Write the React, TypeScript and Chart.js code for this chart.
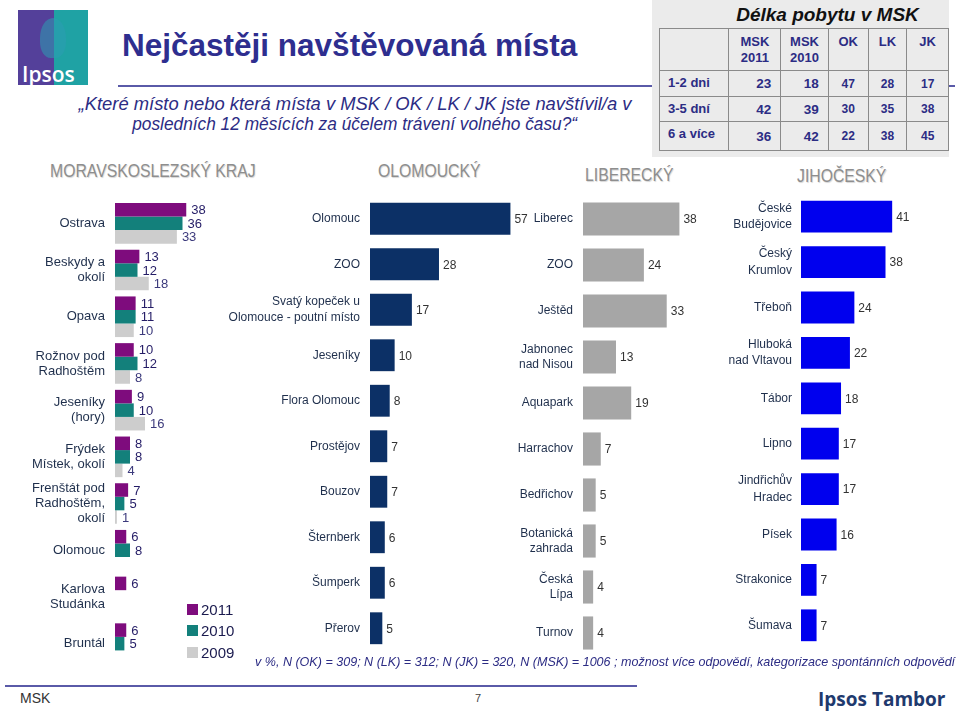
import React, { useEffect, useRef } from "react";
import { Chart, registerables } from "chart.js";

Chart.register(...registerables);

const FONT = "'Liberation Sans', Arial, sans-serif";

// ---- Moravskoslezský kraj (2011 / 2010 / 2009) ----
const mskCategories = [
  ["Ostrava"],
  ["Beskydy a", "okolí"],
  ["Opava"],
  ["Rožnov pod", "Radhoštěm"],
  ["Jeseníky", "(hory)"],
  ["Frýdek", "Místek, okolí"],
  ["Frenštát pod", "Radhoštěm,", "okolí"],
  ["Olomouc"],
  ["Karlova", "Studánka"],
  ["Bruntál"],
];
const msk2011 = [38, 13, 11, 10, 9, 8, 7, 6, 6, 6];
const msk2010 = [36, 12, 11, 12, 10, 8, 5, 8, null, 5];
const msk2009 = [33, 18, 10, 8, 16, 4, 1, null, null, null];
const legendYears = ["2011", "2010", "2009"];

// ---- Olomoucký ----
const okCategories = [
  "Olomouc",
  "ZOO",
  ["Svatý kopeček u", "Olomouce - poutní místo"],
  "Jeseníky",
  "Flora Olomouc",
  "Prostějov",
  "Bouzov",
  "Šternberk",
  "Šumperk",
  "Přerov",
];
const okValues = [57, 28, 17, 10, 8, 7, 7, 6, 6, 5];

// ---- Liberecký ----
const lkCategories = [
  "Liberec",
  "ZOO",
  "Ještěd",
  ["Jabnonec", "nad Nisou"],
  "Aquapark",
  "Harrachov",
  "Bedřichov",
  ["Botanická", "zahrada"],
  ["Česká", "Lípa"],
  "Turnov",
];
const lkValues = [38, 24, 33, 13, 19, 7, 5, 5, 4, 4];

// ---- Jihočeský ----
const jkCategories = [
  ["České", "Budějovice"],
  ["Český", "Krumlov"],
  "Třeboň",
  ["Hluboká", "nad Vltavou"],
  "Tábor",
  "Lipno",
  ["Jindřichův", "Hradec"],
  "Písek",
  "Strakonice",
  "Šumava",
];
const jkValues = [41, 38, 24, 22, 18, 17, 17, 16, 7, 7];

// ---- Délka pobytu table ----
const stayRows = ["1-2 dni", "3-5 dní", "6 a více"];
const stayCols = [["MSK", "2011"], ["MSK", "2010"], ["OK"], ["LK"], ["JK"]];
const stayValues = [
  [23, 18, 47, 28, 17],
  [42, 39, 30, 35, 38],
  [36, 42, 22, 38, 45],
];

const valueLabels = {
  id: "valueLabels",
  afterDatasetsDraw(chart: any, _args: any, opts: any) {
    const ctx = chart.ctx;
    chart.data.datasets.forEach((ds: any, i: number) => {
      const meta = chart.getDatasetMeta(i);
      meta.data.forEach((el: any, j: number) => {
        const v = ds.data[j];
        if (v == null) return;
        ctx.save();
        ctx.font = `${opts.size}px ${FONT}`;
        ctx.fillStyle = opts.colors[i] || opts.colors[0];
        ctx.textAlign = "left";
        ctx.textBaseline = "middle";
        ctx.fillText(String(v), el.x + opts.offset, el.y + 1);
        ctx.restore();
      });
    });
  },
};

function buildConfig(o: any) {
  return {
    type: "bar",
    data: {
      labels: o.labels,
      datasets: o.datasets.map((d: any) => ({
        data: d.data,
        backgroundColor: d.color,
        borderWidth: 0,
        barPercentage: 1,
        categoryPercentage: o.catPct,
      })),
    },
    options: {
      indexAxis: "y",
      responsive: false,
      maintainAspectRatio: false,
      animation: false,
      layout: { padding: { top: o.padTop, bottom: o.padBottom, left: 0, right: 0 } },
      scales: {
        x: { display: false, min: 0, max: o.max },
        y: {
          grid: { display: false, drawTicks: false },
          border: { display: false },
          ticks: {
            autoSkip: false,
            padding: o.tickPad,
            color: o.tickColor,
            font: { family: FONT, size: o.tickSize, lineHeight: o.lineHeight },
          },
          afterFit: (s: any) => {
            s.width = o.yWidth;
            s.paddingTop = 0;
            s.paddingBottom = 0;
          },
        },
      },
      plugins: {
        legend: { display: false },
        tooltip: { enabled: false },
        valueLabels: { size: o.valueSize, colors: o.datasets.map((d: any) => d.labelColor), offset: o.offset },
      },
    },
    plugins: [valueLabels],
  };
}

function BarChart(props: { left: number; top: number; width: number; height: number; config: any }) {
  const ref = useRef<HTMLCanvasElement>(null);
  useEffect(() => {
    const chart = new Chart(ref.current as HTMLCanvasElement, props.config);
    return () => chart.destroy();
  }, []);
  return (
    <canvas
      ref={ref}
      width={props.width}
      height={props.height}
      style={{ position: "absolute", left: props.left, top: props.top, width: props.width, height: props.height }}
    />
  );
}

const mskColors = ["#7e0c7d", "#13807b", "#cdcdcd"];

const mskConfig = buildConfig({
  labels: mskCategories,
  datasets: [
    { data: msk2011, color: mskColors[0], labelColor: "#241c66" },
    { data: msk2010, color: mskColors[1], labelColor: "#241c66" },
    { data: msk2009, color: mskColors[2], labelColor: "#3c3a7c" },
  ],
  yWidth: 115,
  max: 72,
  tickSize: 13,
  lineHeight: 1.15,
  tickColor: "#1f2f4c",
  tickPad: 10,
  valueSize: 13,
  catPct: 0.87,
  padTop: 5,
  padBottom: 5,
  offset: 5,
});

const okConfig = buildConfig({
  labels: okCategories,
  datasets: [{ data: okValues, color: "#0c3066", labelColor: "#333333" }],
  yWidth: 150,
  max: 69,
  tickSize: 12,
  lineHeight: 1.3,
  tickColor: "#1f2f4c",
  tickPad: 10,
  valueSize: 12,
  catPct: 0.7,
  padTop: 6,
  padBottom: 5,
  offset: 4,
});

const lkConfig = buildConfig({
  labels: lkCategories,
  datasets: [{ data: lkValues, color: "#a6a6a6", labelColor: "#333333" }],
  yWidth: 83,
  max: 54,
  tickSize: 12,
  lineHeight: 1.3,
  tickColor: "#1f2f4c",
  tickPad: 10,
  valueSize: 12,
  catPct: 0.72,
  padTop: 6,
  padBottom: 5,
  offset: 4,
});

const jkConfig = buildConfig({
  labels: jkCategories,
  datasets: [{ data: jkValues, color: "#0000ee", labelColor: "#333333" }],
  yWidth: 86,
  max: 71.5,
  tickSize: 12,
  lineHeight: 1.35,
  tickColor: "#1f2f4c",
  tickPad: 9,
  valueSize: 12,
  catPct: 0.7,
  padTop: 6,
  padBottom: 5,
  offset: 4,
});

const navy = "#2c2c84";

function RegionHeader(props: { text: string; left: number; top: number }) {
  return (
    <div
      style={{
        position: "absolute",
        left: props.left,
        top: props.top,
        fontFamily: FONT,
        fontSize: 19,
        color: "#8e8e8e",
        whiteSpace: "nowrap",
        transform: "scaleX(0.83)",
        transformOrigin: "left center",
        textShadow: "1px 1px 1px #d6d6d6",
      }}
    >
      {props.text}
    </div>
  );
}

export default function App() {
  const cell: React.CSSProperties = {
    border: "1.5px solid #8a8a8a",
    color: navy,
    fontWeight: "bold",
    fontSize: 13,
    fontFamily: FONT,
    padding: 0,
  };
  const colW = [69, 51, 47, 39, 38, 41];
  const rowH = [26, 25, 29];
  return (
    <div style={{ position: "absolute", left: 0, top: 0, width: 960, height: 711, background: "#fff", overflow: "hidden", fontFamily: FONT }}>
      {/* logo */}
      <div style={{ position: "absolute", left: 18, top: 10, width: 70, height: 75, background: "linear-gradient(90deg, #54409a 0%, #54409a 52%, #1fa2a4 52%, #1fa2a4 100%)" }}>
        <div style={{ position: "absolute", left: 22, top: 8, width: 26, height: 40, borderRadius: "50% 50% 40% 40%", background: "#2b9db2", opacity: 0.55 }} />
        <div style={{ position: "absolute", left: 4, top: 50, color: "#fff", fontFamily: "'Open Sans', sans-serif", fontWeight: 600, fontSize: 21 }}>Ipsos</div>
      </div>
      {/* title */}
      <div style={{ position: "absolute", left: 122, top: 27, fontFamily: FONT, fontWeight: "bold", fontSize: 31.5, color: "#2e2e8f", whiteSpace: "nowrap" }}>
        Nejčastěji navštěvovaná místa
      </div>
      <div style={{ position: "absolute", left: 118, top: 85, width: 837, height: 2, background: "#5a5aa8" }} />
      <div style={{ position: "absolute", left: 20, top: 94, width: 670, textAlign: "center", fontStyle: "italic", fontSize: 18.4, lineHeight: "20px", color: navy }}>
        „Které místo nebo která místa v MSK / OK / LK / JK jste navštívil/a v<br />
        <span style={{ display: "inline-block", transform: "scaleX(0.94)" }}>posledních 12 měsících za účelem trávení volného času?“</span>
      </div>

      {/* table panel */}
      <div style={{ position: "absolute", left: 652, top: 0, width: 297, height: 157, background: "#ebebeb" }}>
        <div style={{ position: "absolute", left: 27, top: 4, width: 297, textAlign: "center", fontWeight: "bold", fontStyle: "italic", fontSize: 19, color: "#111", whiteSpace: "nowrap" }}>
          Délka pobytu v MSK
        </div>
        <table style={{ position: "absolute", left: 7, top: 28, borderCollapse: "collapse", tableLayout: "fixed" }}>
          <tbody>
            <tr style={{ height: 42 }}>
              <td style={{ ...cell, width: colW[0] }} />
              {stayCols.map((c, i) => (
                <td key={i} style={{ ...cell, width: colW[i + 1], textAlign: "center", verticalAlign: "top", paddingTop: 5, lineHeight: "16px" }}>
                  {c.map((l, k) => (
                    <div key={k}>{l}</div>
                  ))}
                </td>
              ))}
            </tr>
            {stayRows.map((r, ri) => (
              <tr key={ri} style={{ height: rowH[ri] }}>
                <td style={{ ...cell, textAlign: "left", paddingLeft: 8, verticalAlign: "top", paddingTop: 4 }}>{r}</td>
                {stayValues[ri].map((v, ci) => (
                  <td
                    key={ci}
                    style={{
                      ...cell,
                      fontSize: ci < 2 ? 13.5 : 12,
                      textAlign: ci < 2 ? "right" : "center",
                      paddingRight: ci < 2 ? 9 : 0,
                      verticalAlign: "middle",
                    }}
                  >
                    {v}
                  </td>
                ))}
              </tr>
            ))}
          </tbody>
        </table>
      </div>

      <RegionHeader text="MORAVSKOSLEZSKÝ KRAJ" left={50} top={160} />
      <RegionHeader text="OLOMOUCKÝ" left={378} top={160} />
      <RegionHeader text="LIBERECKÝ" left={585} top={164} />
      <RegionHeader text="JIHOČESKÝ" left={797} top={165} />

      <BarChart left={0} top={195} width={250} height={477} config={mskConfig} />
      <BarChart left={220} top={190} width={320} height={466} config={okConfig} />
      <BarChart left={500} top={190} width={220} height={471} config={lkConfig} />
      <BarChart left={715} top={188} width={245} height={465} config={jkConfig} />

      {/* legend */}
      {legendYears.map((y, i) => (
        <div key={y} style={{ position: "absolute", left: 187, top: 600 + i * 21.5, height: 18, display: "flex", alignItems: "center" }}>
          <div style={{ width: 11, height: 11, background: mskColors[i], marginRight: 3 }} />
          <div style={{ fontSize: 15, color: "#1a1a4e" }}>{y}</div>
        </div>
      ))}

      {/* footnote */}
      <div style={{ position: "absolute", left: 255, top: 654, fontSize: 13, fontStyle: "italic", color: navy, whiteSpace: "nowrap", transform: "scaleX(0.965)", transformOrigin: "left center" }}>
        v %, N (OK) = 309; N (LK) = 312; N (JK) = 320, N (MSK) = 1006 ; možnost více odpovědí, kategorizace spontánních odpovědí
      </div>

      {/* footer */}
      <div style={{ position: "absolute", left: 5, top: 685, width: 632, height: 2, background: "#5a5aa8" }} />
      <div style={{ position: "absolute", left: 20, top: 690, fontSize: 14, color: "#333" }}>MSK</div>
      <div style={{ position: "absolute", left: 475, top: 692, fontSize: 11, color: "#444" }}>7</div>
      <div style={{ position: "absolute", left: 818, top: 686, fontSize: 19, fontWeight: "bold", fontFamily: "'Open Sans', sans-serif", color: "#1f3a6e", whiteSpace: "nowrap" }}>
        Ipsos Tambor
      </div>
    </div>
  );
}
